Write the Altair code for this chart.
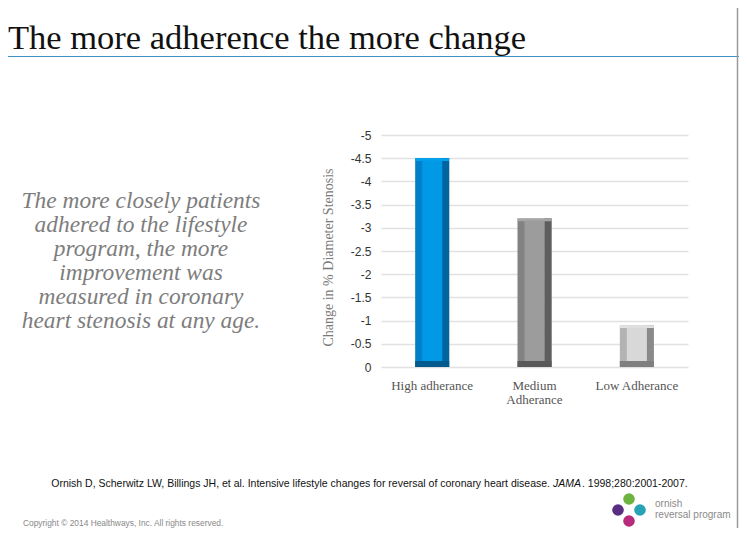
import altair as alt
import pandas as pd

# ---- data ----
categories = ["High adherance", "Medium Adherance", "Low Adherance"]
values = [-4.5, -3.2, -0.9]
y_ticks = [0, -0.5, -1, -1.5, -2, -2.5, -3, -3.5, -4, -4.5, -5]

title_text = "The more adherence the more change"
side_lines = [
    "The more closely patients",
    "adhered to the lifestyle",
    "program, the more",
    "improvement was",
    "measured in coronary",
    "heart stenosis at any age.",
]
y_title = "Change in % Diameter Stenosis"
ref_part1 = "Ornish D, Scherwitz LW, Billings JH, et al. Intensive lifestyle changes for reversal of coronary heart disease."
ref_part2 = "JAMA"
ref_part3 = ". 1998;280:2001-2007."
copyright_text = "Copyright \u00a9 2014 Healthways, Inc. All rights reserved."
logo_line1 = "ornish"
logo_line2 = "reversal program"

# ---- styles ----
face_colors = ["#0099e6", "#9c9c9c", "#d8d8d8"]
left_colors = ["#0080c8", "#828282", "#b3b3b3"]
right_colors = ["#00649e", "#5e5e5e", "#8a8a8a"]
bottom_colors = ["#005a8e", "#595959", "#7f7f7f"]
top_colors = ["#00a2ee", "#a6a6a6", "#e2e2e2"]

OX, OY = 381, 135  # plot origin on the page
W, H = 307, 232
TOTAL_W, TOTAL_H = 731, 520

df = pd.DataFrame({"category": categories, "value": values})

serif = "Liberation Serif"
sans = "Liberation Sans"

x_enc = alt.X(
    "category:N",
    sort=categories,
    scale=alt.Scale(domain=categories, paddingInner=0, paddingOuter=0),
    axis=alt.Axis(
        title=None, ticks=False, domain=False, grid=False, labelAngle=0,
        labelFont=serif, labelFontSize=13, labelColor="#555555",
        labelPadding=12, labelLineHeight=14,
        labelExpr="datum.label == 'Medium Adherance' ? ['Medium', 'Adherance'] : datum.label",
    ),
)

y_axis = alt.Axis(
    title=y_title, values=y_ticks, ticks=False, domain=False,
    labelExpr="toString(datum.value)",
    labelFont=sans, labelFontSize=12, labelColor="#333333", labelPadding=10,
    gridColor="#e1e1e1", gridWidth=1.5,
    titleFont=serif, titleFontSize=14, titleFontWeight="normal", titleColor="#7a7a7a",
    titleX=-53, titleY=122, titleAngle=-90, titleAlign="center", titleBaseline="middle",
)
y_scale = alt.Scale(domain=[-5, 0], reverse=True, nice=False)


def ycol(field):
    return alt.Y(f"{field}:Q", scale=y_scale, axis=y_axis)


def col(rng):
    return alt.Color("category:N", scale=alt.Scale(domain=categories, range=rng), legend=None)


base = alt.Chart(df).transform_calculate(
    face_top="datum.value + 0.05",
    face_bottom="-0.13",
    top_edge="datum.value + 0.06",
).encode(x=x_enc)

bar_full = base.mark_bar(width=34).encode(y=ycol("value"), y2=alt.datum(0), color=col(left_colors))
bar_right = base.mark_bar(width=7, xOffset=13.5).encode(y=ycol("value"), y2=alt.datum(0), color=col(right_colors))
bar_bottom = base.mark_bar(width=34).encode(y=ycol("face_bottom"), y2=alt.datum(0), color=col(bottom_colors))
bar_top = base.mark_bar(width=34).encode(y=ycol("value"), y2="top_edge:Q", color=col(top_colors))
bar_face = base.mark_bar(width=20).encode(y=ycol("face_top"), y2="face_bottom:Q", color=col(face_colors))

one = alt.Data(values=[{}])


def txt(text, x, y, **kw):
    return alt.Chart(one).mark_text(text=text, **kw).encode(
        x=alt.value(x - OX), y=alt.value(y - OY)
    )


title = txt(title_text, 8, 49, font=serif, fontSize=34.5, color="#111111", align="left", baseline="alphabetic")
top_line = alt.Chart(one).mark_rule(color="#3d8fc6", strokeWidth=1.2).encode(
    x=alt.value(8 - OX), x2=alt.value(8 + TOTAL_W - OX), y=alt.value(56.5 - OY)
)
right_border = alt.Chart(one).mark_rule(color="#9a9a9a", strokeWidth=1.5).encode(
    x=alt.value(8 + TOTAL_W - 1.5 - OX), y=alt.value(8 - OY), y2=alt.value(8 + TOTAL_H - OY)
)
side = txt(side_lines, 141, 208, font=serif, fontSize=23.4, fontStyle="italic", color="#7d7d7d",
           align="center", baseline="alphabetic", lineHeight=24)
ref1 = txt(ref_part1, 550, 487, font=sans, fontSize=10.5, color="#111111", align="right", baseline="alphabetic")
ref2 = txt(ref_part2, 553, 487, font=sans, fontSize=10.5, fontStyle="italic", color="#111111", align="left", baseline="alphabetic")
ref3 = txt(ref_part3, 582, 487, font=sans, fontSize=10.5, color="#111111", align="left", baseline="alphabetic")
copy_t = txt(copyright_text, 23, 526, font=sans, fontSize=8.4, color="#888888", align="left", baseline="alphabetic")
logo_t1 = txt(logo_line1, 655, 507, font=sans, fontSize=10, color="#8a8a8a", align="left", baseline="alphabetic")
logo_t2 = txt(logo_line2, 655, 518, font=sans, fontSize=10, color="#8a8a8a", align="left", baseline="alphabetic")


def dot(color, x, y):
    return alt.Chart(one).mark_circle(size=135, color=color, opacity=1).encode(
        x=alt.value(x - OX), y=alt.value(y - OY)
    )


logo = [dot("#6db33f", 629, 499), dot("#5a2d82", 618, 510), dot("#27a3b5", 640, 510), dot("#b72a7c", 629, 521)]

chart = alt.layer(
    bar_full, bar_right, bar_bottom, bar_top, bar_face,
    title, top_line, right_border, side, ref1, ref2, ref3, copy_t, logo_t1, logo_t2, *logo,
).resolve_scale(color="independent").properties(
    width=W, height=H,
    autosize=alt.AutoSizeParams(type="none"),
    padding={"left": OX - 8, "top": OY - 8, "right": TOTAL_W - (OX - 8) - W, "bottom": TOTAL_H - (OY - 8) - H},
    background="white",
).configure_view(stroke=None)

chart.save("out.html", embed_options={"renderer": "svg", "actions": False})
